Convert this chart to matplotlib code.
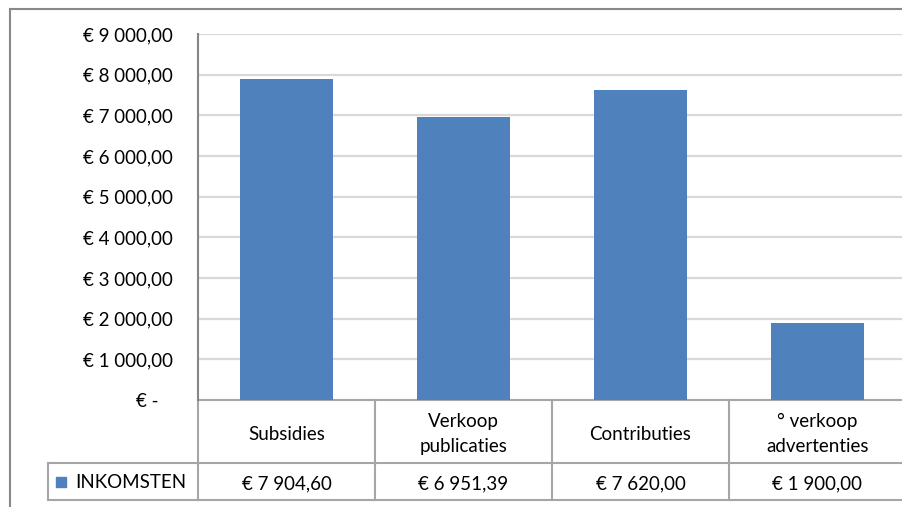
import matplotlib
matplotlib.use("Agg")
import matplotlib.pyplot as plt
from matplotlib.lines import Line2D
from matplotlib.patches import Rectangle

categories = ["Subsidies", "Verkoop\npublicaties", "Contributies", "° verkoop\nadvertenties"]
values = [7904.60, 6951.39, 7620.00, 1900.00]
series_name = "INKOMSTEN"
yticks = [0, 1000, 2000, 3000, 4000, 5000, 6000, 7000, 8000, 9000]

def euro(v):
    if v == 0:
        return "€ -   "
    s = f"{v:,.2f}"
    s = s.replace(",", " ").replace(".", ",")
    return "€ " + s

plt.rcParams['font.family'] = ['Lato', 'DejaVu Sans']
FS = 13.5
W, H = 902, 507
fig = plt.figure(figsize=(W / 100, H / 100), dpi=100)

bar_color = "#4f81bd"
grid_color = "#d9d9d9"
line_color = "#a6a6a6"
axis_color = "#868686"

left, right, top, bottom = 198, 906, 34, 400
ax = fig.add_axes([left / W, 1 - bottom / H, (right - left) / W, (bottom - top) / H])
x = list(range(len(categories)))
ax.bar(x, values, width=0.52, color=bar_color, zorder=3)
ax.set_xlim(-0.5, len(categories) - 0.5)
ax.set_ylim(0, 9000)
ax.set_yticks(yticks)
ax.set_yticklabels([euro(v) for v in yticks], fontsize=FS)
ax.tick_params(axis='y', length=0, pad=18)
ax.set_xticks([])
for v in yticks[1:]:
    ax.axhline(v, color=grid_color, lw=1.6, zorder=1)
for s in ["top", "right", "bottom"]:
    ax.spines[s].set_visible(False)
ax.spines["left"].set_color(axis_color)
ax.spines["left"].set_linewidth(1.5)

# data table
tr = ax.get_xaxis_transform()
ph = bottom - top
r1 = -(463 - bottom) / ph
r2 = -(500 - bottom) / ph
n = len(categories)
kw = dict(transform=tr, color=line_color, lw=1.5, clip_on=False)
ax.add_line(Line2D([-0.5, n], [0, 0], **kw))
ax.add_line(Line2D([-0.5, n], [r1, r1], **kw))
ax.add_line(Line2D([-0.5, n], [r2, r2], **kw))
for b in range(n + 1):
    ax.add_line(Line2D([b - 0.5, b - 0.5], [0, r2], **kw))
fkw = dict(transform=fig.transFigure, color=line_color, lw=1.5, clip_on=False)
fig.add_artist(Line2D([48 / W, left / W], [1 - 463 / H, 1 - 463 / H], **fkw))
fig.add_artist(Line2D([48 / W, left / W], [1 - 500 / H, 1 - 500 / H], **fkw))
fig.add_artist(Line2D([48 / W, 48 / W], [1 - 463 / H, 1 - 500 / H], **fkw))

cat_y = -(434 - bottom) / ph
val_y = -(484 - bottom) / ph
for i, (c, v) in enumerate(zip(categories, values)):
    ax.text(i, cat_y, c, transform=tr, ha="center", va="center", fontsize=FS,
            linespacing=1.55, clip_on=False)
    ax.text(i, val_y, euro(v), transform=tr, ha="center", va="center",
            fontsize=FS, clip_on=False)

# legend key
fig.add_artist(Rectangle((56 / W, 1 - 487 / H), 10 / W, 10 / H, transform=fig.transFigure,
                         color=bar_color))
fig.text(75 / W, 1 - 483 / H, series_name, ha="left", va="center", fontsize=FS)

# outer chart border
fig.add_artist(Line2D([10 / W, 1], [1 - 9 / H, 1 - 9 / H], transform=fig.transFigure,
                      color="#888888", lw=1.5))
fig.add_artist(Line2D([10 / W, 10 / W], [1 - 9 / H, 0], transform=fig.transFigure,
                      color="#888888", lw=1.5))

fig.savefig("out.png", dpi=100)
